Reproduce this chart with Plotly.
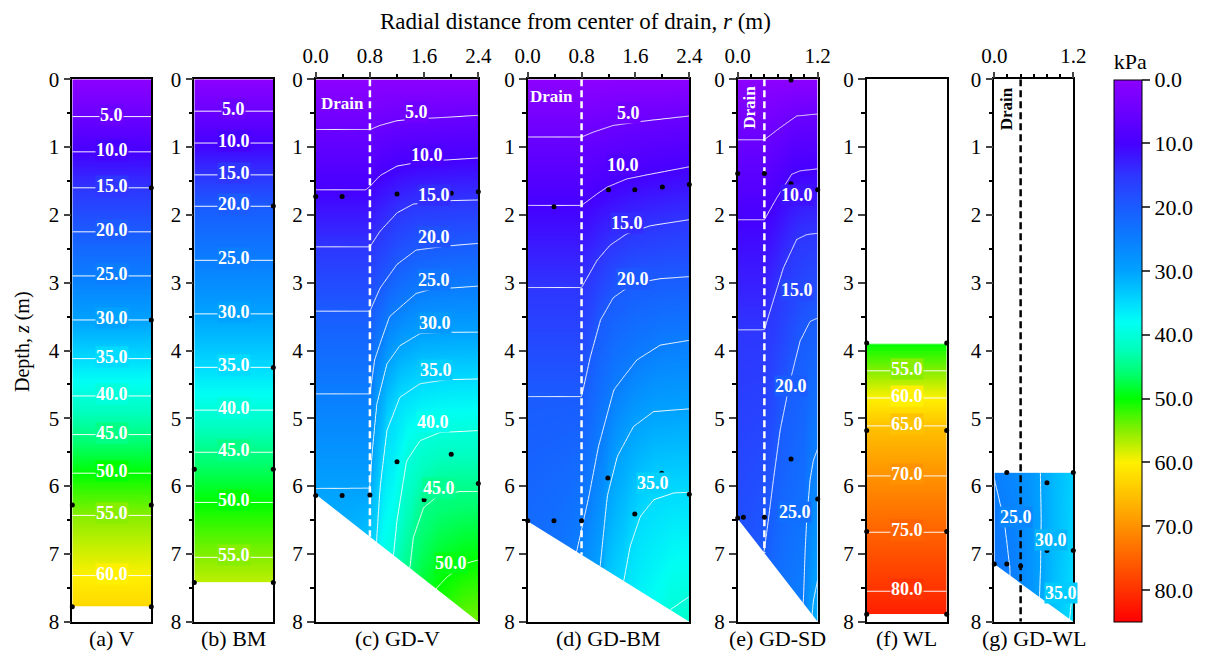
import numpy as np
import plotly.graph_objects as go

FONT = "Liberation Serif"
# the page body adds an 8 px margin, so the figure is 8 px smaller and all
# reference pixel positions are shifted by OFF
OFF = 8
W, H = 1211 - OFF, 653 - OFF

# ---------------- colour scale (kPa) ----------------
CB_VALS = [0, 5, 10, 15, 20, 25, 30, 35, 38, 42, 46, 50, 55, 60, 65, 70, 75, 80, 85]
CB_COLS = ["#8C00FF", "#6A00FF", "#4600FF", "#2E36FF", "#1A5CFF", "#0A7EFF", "#00A2FF",
           "#00DCFF", "#00FFF4", "#00FFC0", "#00FF70", "#00FF00", "#88EE00", "#FFF000",
           "#FFC200", "#FF9200", "#FF6200", "#FF3200", "#FF0000"]
CMAX = 85
CB_TICKS = [0, 10, 20, 30, 40, 50, 60, 70, 80]

# ---------------- (a) V, (b) BM, (f) WL : contour depths ----------------
V_LEVEL = [0, 5, 10, 15, 20, 25, 30, 35, 40, 45, 50, 55, 60]
V_DEPTH = [0.0, 0.55, 1.07, 1.60, 2.25, 2.90, 3.55, 4.12, 4.67, 5.24, 5.81, 6.43, 7.32]
V_RANGE = [0.0, 7.78]

BM_LEVEL = [0, 5, 10, 15, 20, 25, 30, 35, 40, 45, 50, 55]
BM_DEPTH = [0.0, 0.47, 0.94, 1.41, 1.87, 2.67, 3.46, 4.25, 4.88, 5.50, 6.24, 7.05]
BM_RANGE = [0.0, 7.42]

WL_LEVEL = [55, 60, 65, 70, 75, 80]
WL_DEPTH = [4.30, 4.70, 5.11, 5.85, 6.68, 7.55]
WL_RANGE = [3.89, 7.89]

# ---------------- (c) GD-V : contour polylines (r, z) ----------------
GDV_BOTTOM = [6.12, 8.0]
GDV_DRAIN = 0.8
GDV_5 = ([0.8, 0.95, 1.2, 1.54, 1.93, 2.4], [0.74, 0.68, 0.61, 0.58, 0.56, 0.53])
GDV_10 = ([0.74, 0.8, 0.95, 1.2, 1.54, 1.93, 2.4], [1.63, 1.58, 1.42, 1.28, 1.22, 1.19, 1.16])
GDV_15 = ([0.8, 0.95, 1.2, 1.44, 1.93, 2.4], [2.47, 2.24, 1.97, 1.84, 1.79, 1.78])
GDV_20 = ([0.8, 0.95, 1.2, 1.48, 1.93, 2.4], [3.42, 3.08, 2.73, 2.52, 2.46, 2.42])
GDV_25 = ([0.8, 0.87, 0.95, 1.09, 1.48, 1.69, 2.4], [4.64, 4.14, 3.90, 3.50, 3.16, 3.10, 3.05])
GDV_30 = ([0.8, 0.83, 0.9, 1.05, 1.24, 1.54, 1.93, 2.4], [6.03, 5.53, 4.79, 4.20, 3.93, 3.75, 3.73, 3.73])
GDV_35 = ([0.9, 0.95, 1.05, 1.24, 1.54, 1.93, 2.4], [6.82, 6.02, 5.18, 4.69, 4.49, 4.43, 4.42])
GDV_40 = ([1.15, 1.2, 1.34, 1.54, 1.83, 2.4], [7.02, 6.51, 5.63, 5.33, 5.21, 5.18])
GDV_45 = ([1.39, 1.44, 1.59, 1.83, 2.13, 2.4], [7.21, 6.76, 6.32, 6.12, 6.08, 6.08])
GDV_50 = ([1.78, 1.93, 2.18, 2.4], [7.51, 7.35, 7.15, 7.09])
GDV_LABELS = [(5, 1.49, 0.48), (10, 1.65, 1.12), (15, 1.74, 1.71), (20, 1.75, 2.32),
              (25, 1.75, 2.96), (30, 1.76, 3.60), (35, 1.78, 4.29), (40, 1.73, 5.05),
              (45, 1.82, 6.03), (50, 2.00, 7.14)]

# ---------------- (d) GD-BM ----------------
GDBM_BOTTOM = [6.52, 8.0]
GDBM_DRAIN = 0.8
GDBM_5 = ([0.8, 0.97, 1.27, 1.77, 2.4], [0.85, 0.78, 0.68, 0.61, 0.54])
GDBM_10 = ([0.8, 1.03, 1.18, 1.47, 1.82, 2.4], [1.86, 1.69, 1.59, 1.47, 1.40, 1.29])
GDBM_15 = ([0.8, 1.03, 1.22, 1.47, 1.82, 2.4], [3.07, 2.67, 2.45, 2.28, 2.16, 2.07])
GDBM_20 = ([0.8, 0.93, 1.08, 1.27, 1.57, 1.97, 2.4], [4.68, 4.09, 3.55, 3.22, 3.01, 2.94, 2.91])
GDBM_25 = ([0.73, 0.91, 1.05, 1.28, 1.62, 1.97, 2.4], [6.96, 6.15, 5.42, 4.58, 4.14, 3.92, 3.85])
GDBM_30 = ([1.08, 1.18, 1.33, 1.57, 1.87, 2.4], [7.16, 6.15, 5.56, 5.12, 4.90, 4.86])
GDBM_35 = ([1.43, 1.52, 1.67, 1.87, 2.17, 2.4], [7.38, 6.89, 6.45, 6.20, 6.10, 6.09])
GDBM_40 = ([2.12, 2.4], [7.82, 7.63])
GDBM_LABELS = [(5, 1.49, 0.50), (10, 1.42, 1.26), (15, 1.47, 2.12), (20, 1.56, 2.94),
               (35, 1.86, 5.96)]

# ---------------- (e) GD-SD ----------------
GDSD_BOTTOM = [6.48, 8.0]
GDSD_DRAIN = 0.4
GDSD_5 = ([0.4, 0.64, 0.885, 1.2], [0.89, 0.71, 0.54, 0.51])
GDSD_10 = ([0.4, 0.585, 0.81, 0.935, 1.2], [2.07, 1.75, 1.40, 1.35, 1.32])
GDSD_15 = ([0.4, 0.685, 0.885, 1.035, 1.2], [3.69, 2.78, 2.36, 2.29, 2.27])
GDSD_20 = ([0.4, 0.46, 0.535, 0.635, 0.785, 0.935, 1.085, 1.2], [6.94, 6.50, 5.91, 5.18, 4.45, 3.86, 3.57, 3.52])
GDSD_25 = ([0.985, 1.01, 1.035, 1.085, 1.135, 1.2], [7.72, 6.99, 6.50, 5.91, 5.62, 5.45])
GDSD_LABELS = [(10, 0.89, 1.71), (15, 0.885, 3.11), (20, 0.795, 4.53), (25, 0.86, 6.38)]

# ---------------- (g) GD-WL : pressure grid ----------------
GDWL_BOTTOM = [7.15, 8.0]
GDWL_DRAIN = 0.4
GDWL_R = [0.0, 0.3, 0.6, 0.9, 1.2]
GDWL_Z = [5.8, 6.5, 7.2, 8.0]
GDWL_P = [[25.1, 26.6, 29.0, 32.0, 34.0],
          [24.3, 25.7, 28.8, 32.0, 34.3],
          [23.9, 25.3, 28.8, 32.3, 34.8],
          [23.8, 25.2, 29.0, 33.0, 35.5]]
GDWL_LABELS = [(25, 0.325, 6.45), (30, 0.86, 6.80), (35, 1.02, 7.58)]

# ---------------- measurement points ----------------
V_DOT_R = [1, 1, 0, 1, 0, 1]
V_DOT_Z = [1.60, 3.55, 6.28, 6.28, 7.78, 7.78]
BM_DOT_R = [1, 1, 0, 1, 0, 1]
BM_DOT_Z = [1.87, 4.25, 5.75, 5.75, 7.42, 7.42]
WL_DOT_R = [0, 1, 0, 1, 0, 1, 0, 1]
WL_DOT_Z = [3.89, 3.89, 5.18, 5.18, 6.67, 6.67, 7.89, 7.89]
GDV_DOT_R = [0, 0.39, 1.2, 1.6, 2.0, 2.4, 0, 0.39, 0.8, 1.2, 1.6, 2.0, 2.4]
GDV_DOT_Z = [1.73, 1.73, 1.69, 1.72, 1.68, 1.66, 6.14, 6.14, 6.13, 5.64, 6.20, 5.53, 5.96]
GDBM_DOT_R = [0.39, 1.2, 1.59, 2.0, 2.4, 0, 0.39, 0.8, 1.19, 1.59, 1.99, 2.4]
GDBM_DOT_Z = [1.88, 1.63, 1.63, 1.59, 1.55, 6.51, 6.51, 6.51, 5.88, 6.41, 5.81, 6.12]
GDSD_DOT_R = [0, 0.4, 0.8, 1.2, 0.8, 0.0, 0.085, 0.4, 0.8, 1.2]
GDSD_DOT_Z = [1.39, 1.39, 1.54, 1.63, 0.01, 6.47, 6.46, 6.46, 5.60, 6.19]
GDWL_DOT_R = [0.19, 0.8, 1.2, 0.0, 0.19, 0.4, 0.8, 1.2]
GDWL_DOT_Z = [5.80, 5.95, 5.80, 7.15, 7.15, 7.18, 6.95, 6.95]

PANEL_LABELS = ["(a) V", "(b) BM", "(c) GD-V", "(d) GD-BM", "(e) GD-SD", "(f) WL", "(g) GD-WL"]

# ---------------- layout geometry (reference pixels) ----------------
PANEL_PX = [(72.3, 151.3), (194.3, 273.3), (315.7, 478.3), (527.7, 689.3),
            (737.7, 817.7), (866.7, 946.7), (994.3, 1073.3)]
Y_TOP, Y_BOT = 79.3, 621.7


def px(x):
    return (x - OFF) / W


def py(y):
    return 1 - (y - OFF) / H


def hex2rgb(h):
    return [int(h[k:k + 2], 16) for k in (1, 3, 5)]


CB_RGB = np.array([hex2rgb(c) for c in CB_COLS], dtype=float)


def level_color(v):
    v = min(max(v, 0), CMAX)
    rgb = [np.interp(v, CB_VALS, CB_RGB[:, k]) for k in range(3)]
    return "rgb(%d,%d,%d)" % tuple(int(round(c)) for c in rgb)


def extend(levels, depths):
    lv = list(levels)
    dp = list(depths)
    for i in range(1, len(dp)):
        if dp[i] <= dp[i - 1] + 1e-3:
            dp[i] = dp[i - 1] + 1e-3
    s_hi = (lv[-1] - lv[-2]) / (dp[-1] - dp[-2])
    s_lo = (lv[1] - lv[0]) / (dp[1] - dp[0])
    lv = [lv[0] - s_lo * 20] + lv + [lv[-1] + s_hi * 20]
    dp = [dp[0] - 20] + dp + [dp[-1] + 20]
    return lv, dp


def field_1d(z_grid, levels, depths):
    lv, dp = extend(levels, depths)
    col = np.interp(z_grid, dp, lv)
    return np.column_stack([col, col])


def field_2d(r_grid, z_grid, curves, bottom, rmax):
    zb0, zb1 = bottom
    zb = lambda r: zb0 + (zb1 - zb0) * r / rmax
    Z = np.full((len(z_grid), len(r_grid)), np.nan)
    for j, r in enumerate(r_grid):
        lv = [0.0]
        dp = [0.0]
        for level, (rp, zp) in curves:
            if r < rp[0] and zp[0] >= zb(rp[0]) - 0.1:
                d = zp[0] + 3.0 * (rp[0] - r)
            else:
                d = float(np.interp(r, rp, zp))
            lv.append(level)
            dp.append(d)
        lv, dp = extend(lv, dp)
        col = np.interp(z_grid, dp, lv)
        col[z_grid > zb(r) + 0.05] = np.nan
        Z[:, j] = col
    return Z


def field_grid(r_grid, z_grid, R, Zs, P, bottom, rmax):
    P = np.asarray(P)
    tmp = np.array([np.interp(r_grid, R, row) for row in P])
    out = np.array([np.interp(z_grid, Zs, tmp[:, j]) for j in range(len(r_grid))]).T
    zb0, zb1 = bottom
    for j, r in enumerate(r_grid):
        out[z_grid > zb0 + (zb1 - zb0) * r / rmax + 0.05, j] = np.nan
    return out


def sample(rg, zg, Z, r, z):
    j = int(np.argmin(np.abs(np.asarray(rg) - r)))
    i = int(np.argmin(np.abs(np.asarray(zg) - z)))
    v = Z[i, j]
    return 0.0 if np.isnan(v) else float(v)


fig = go.Figure()
ann = []
LBL_FONT = dict(family=FONT, size=18, color="white", weight="bold")


def add_label(i, level, r, z, bg):
    ann.append(dict(x=r, y=z, xref=f"x{i}", yref=f"y{i}", text=f"<b>{level:.1f}</b>",
                    xanchor="center", yanchor="middle",
                    showarrow=False, font=LBL_FONT, bgcolor=bg, borderpad=0))


def add_contour(i, x, y, z):
    fig.add_trace(go.Contour(
        x=x, y=y, z=np.round(z, 2), xaxis=f"x{i}", yaxis=f"y{i}", coloraxis="coloraxis",
        contours=dict(start=5, end=80, size=5, coloring="heatmap", showlabels=False),
        line=dict(color="rgba(255,255,255,0.95)", width=1, smoothing=1),
        hoverinfo="skip", showlegend=False))


def add_dots(i, r, z):
    fig.add_trace(go.Scatter(x=r, y=z, mode="markers", xaxis=f"x{i}", yaxis=f"y{i}",
                             marker=dict(color="black", size=5), hoverinfo="skip",
                             showlegend=False, cliponaxis=False))


def add_mask(i, bottom, rmax):
    fig.add_trace(go.Scatter(x=[0, rmax, 0, 0], y=[bottom[0], bottom[1], 8.05, bottom[0]],
                             mode="lines", fill="toself", fillcolor="white",
                             line=dict(width=0, color="white"), xaxis=f"x{i}", yaxis=f"y{i}",
                             hoverinfo="skip", showlegend=False))


def add_drain(i, r, z_end, color):
    fig.add_trace(go.Scatter(x=[r, r], y=[0, z_end], mode="lines", xaxis=f"x{i}", yaxis=f"y{i}",
                             line=dict(color=color, width=2.5, dash="7px,4px"),
                             hoverinfo="skip", showlegend=False))


# (a), (b), (f)
for i, (lev, dep, rng) in zip([1, 2, 6], [(V_LEVEL, V_DEPTH, V_RANGE),
                                          (BM_LEVEL, BM_DEPTH, BM_RANGE),
                                          (WL_LEVEL, WL_DEPTH, WL_RANGE)]):
    zg = np.linspace(rng[0], rng[1], 321)
    add_contour(i, [0, 1], zg, field_1d(zg, lev, dep))
    for L, d in zip(lev, dep):
        if L >= 5:
            add_label(i, L, 0.5, d - 0.03, level_color(L))

add_dots(1, V_DOT_R, V_DOT_Z)
add_dots(2, BM_DOT_R, BM_DOT_Z)
add_dots(6, WL_DOT_R, WL_DOT_Z)

# (c), (d), (e)
panels2d = [
    (3, 2.4, GDV_BOTTOM, GDV_DRAIN,
     [(5, GDV_5), (10, GDV_10), (15, GDV_15), (20, GDV_20), (25, GDV_25), (30, GDV_30),
      (35, GDV_35), (40, GDV_40), (45, GDV_45), (50, GDV_50)], GDV_DOT_R, GDV_DOT_Z, GDV_LABELS),
    (4, 2.4, GDBM_BOTTOM, GDBM_DRAIN,
     [(5, GDBM_5), (10, GDBM_10), (15, GDBM_15), (20, GDBM_20), (25, GDBM_25), (30, GDBM_30),
      (35, GDBM_35), (40, GDBM_40)], GDBM_DOT_R, GDBM_DOT_Z, GDBM_LABELS),
    (5, 1.2, GDSD_BOTTOM, GDSD_DRAIN,
     [(5, GDSD_5), (10, GDSD_10), (15, GDSD_15), (20, GDSD_20), (25, GDSD_25)],
     GDSD_DOT_R, GDSD_DOT_Z, GDSD_LABELS),
]
for i, rmax, bottom, drain, curves, dr, dz, labels in panels2d:
    rg = np.linspace(0, rmax, 161)
    zg = np.linspace(0, 8, 401)
    Z = field_2d(rg, zg, curves, bottom, rmax)
    add_contour(i, rg, zg, Z)
    add_mask(i, bottom, rmax)
    zb_drain = bottom[0] + (bottom[1] - bottom[0]) * drain / rmax
    add_drain(i, drain, zb_drain, "white")
    add_dots(i, dr, dz)
    for L, r, z in labels:
        add_label(i, L, r, z, level_color(sample(rg, zg, Z, r, z)))

# (g)
rg = np.linspace(0, 1.2, 81)
zg = np.linspace(GDWL_Z[0], 8, 121)
Zg = field_grid(rg, zg, GDWL_R, GDWL_Z, GDWL_P, GDWL_BOTTOM, 1.2)
add_contour(7, rg, zg, Zg)
add_mask(7, GDWL_BOTTOM, 1.2)
add_drain(7, GDWL_DRAIN, 8.0, "black")
add_dots(7, GDWL_DOT_R, GDWL_DOT_Z)
for L, r, z in GDWL_LABELS:
    add_label(7, L, r, z, level_color(sample(rg, zg, Zg, r, z)))

# colour bar (0 at the top) from a hidden helper trace
fig.add_trace(go.Scatter(x=[0.5, 0.5], y=[-5, -5], mode="markers", xaxis="x1", yaxis="y1",
                         marker=dict(color=[-CMAX, 0], coloraxis="coloraxis2", size=1),
                         hoverinfo="skip", showlegend=False))

# ---------------- axes ----------------
ydom = [py(Y_BOT), py(Y_TOP)]
tickfont = dict(family=FONT, size=21, color="black")
layout = {}
for i, (x0, x1) in enumerate(PANEL_PX, start=1):
    xd = dict(domain=[px(x0), px(x1)], anchor=f"y{i}", showgrid=False, zeroline=False,
              showline=True, linecolor="black", linewidth=1.5, mirror=True,
              tickfont=tickfont, fixedrange=True, automargin=False)
    if i in (3, 4):
        xd.update(range=[0, 2.4], side="top", tickvals=[0, 0.8, 1.6, 2.4],
                  ticktext=["0.0", "0.8", "1.6", "2.4"], ticks="outside", ticklen=6,
                  tickwidth=1.5, minor=dict(dtick=0.4, tick0=0, ticks="outside", ticklen=4,
                                            tickwidth=1.5, tickcolor="black"))
    elif i in (5, 7):
        xd.update(range=[0, 1.2], side="top", tickvals=[0, 1.2], ticktext=["0.0", "1.2"],
                  ticks="outside", ticklen=6, tickwidth=1.5,
                  minor=dict(dtick=0.2, tick0=0, ticks="outside", ticklen=4, tickwidth=1.5,
                             tickcolor="black"))
    else:
        xd.update(range=[0, 1], showticklabels=False, ticks="")
    yd = dict(domain=ydom, anchor=f"x{i}", range=[8, 0], tickvals=list(range(9)),
              ticks="outside", ticklen=7, tickwidth=1.5, showgrid=False, zeroline=False,
              showline=True, linecolor="black", linewidth=1.5, mirror=True,
              tickfont=tickfont, fixedrange=True, automargin=False,
              minor=dict(dtick=0.5, tick0=0, ticks="outside", ticklen=4, tickwidth=1.5,
                         tickcolor="black"))
    layout[f"xaxis{i}"] = xd
    layout[f"yaxis{i}"] = yd

for (x0, x1), lab in zip(PANEL_PX, PANEL_LABELS):
    ann.append(dict(x=px((x0 + x1) / 2), y=py(638), xref="paper", yref="paper",
                    xanchor="center", yanchor="middle",
                    text=lab, showarrow=False, font=dict(family=FONT, size=22, color="black")))
ann.append(dict(x=px(575), y=py(22), xref="paper", yref="paper",
                xanchor="center", yanchor="middle",
                text="Radial distance from center of drain, <i>r</i> (m)", showarrow=False,
                font=dict(family=FONT, size=23, color="black")))
ann.append(dict(x=px(22), y=py(342), xref="paper", yref="paper", textangle=-90,
                xanchor="center", yanchor="middle",
                text="Depth, <i>z</i> (m)", showarrow=False,
                font=dict(family=FONT, size=20, color="black")))
bold16w = dict(family=FONT, size=17, color="white", weight="bold")
ann.append(dict(x=0.39, y=0.36, xref="x3", yref="y3", text="<b>Drain</b>", showarrow=False,
                font=bold16w))
ann.append(dict(x=0.36, y=0.26, xref="x4", yref="y4", text="<b>Drain</b>", showarrow=False,
                font=bold16w))
ann.append(dict(x=0.185, y=0.42, xref="x5", yref="y5", text="<b>Drain</b>", showarrow=False,
                textangle=-90, font=bold16w))
ann.append(dict(x=0.19, y=0.43, xref="x7", yref="y7", text="<b>Drain</b>", showarrow=False,
                textangle=-90, font=dict(family=FONT, size=17, color="black", weight="bold")))

colorscale = [[v / CMAX, c] for v, c in zip(CB_VALS, CB_COLS)]
colorscale_neg = sorted([[1 - v / CMAX, c] for v, c in zip(CB_VALS, CB_COLS)])
CB_TITLE_PX = 32
fig.update_layout(
    width=W, height=H, margin=dict(l=0, r=0, t=0, b=0, autoexpand=False),
    paper_bgcolor="white", plot_bgcolor="white",
    font=dict(family=FONT, color="black"),
    annotations=ann,
    coloraxis=dict(colorscale=colorscale, cmin=0, cmax=CMAX, showscale=False),
    coloraxis2=dict(colorscale=colorscale_neg, cmin=-CMAX, cmax=0, showscale=True,
                    colorbar=dict(x=px(1114.3), xanchor="left", xpad=0,
                                  y=py(621.7), yanchor="bottom", ypad=0,
                                  len=(621.7 - 81.7 + CB_TITLE_PX) / H, lenmode="fraction",
                                  thickness=28, thicknessmode="pixels",
                                  outlinecolor="black", outlinewidth=1,
                                  ticks="outside", ticklen=8, tickwidth=1.5,
                                  tickvals=[-v for v in CB_TICKS],
                                  ticktext=[f"{v:.1f}" for v in CB_TICKS],
                                  tickfont=dict(family=FONT, size=22, color="black"),
                                  title=dict(text="kPa", side="top",
                                             font=dict(family=FONT, size=22, color="black")))),
    **layout,
)

fig.write_html("out.html")
